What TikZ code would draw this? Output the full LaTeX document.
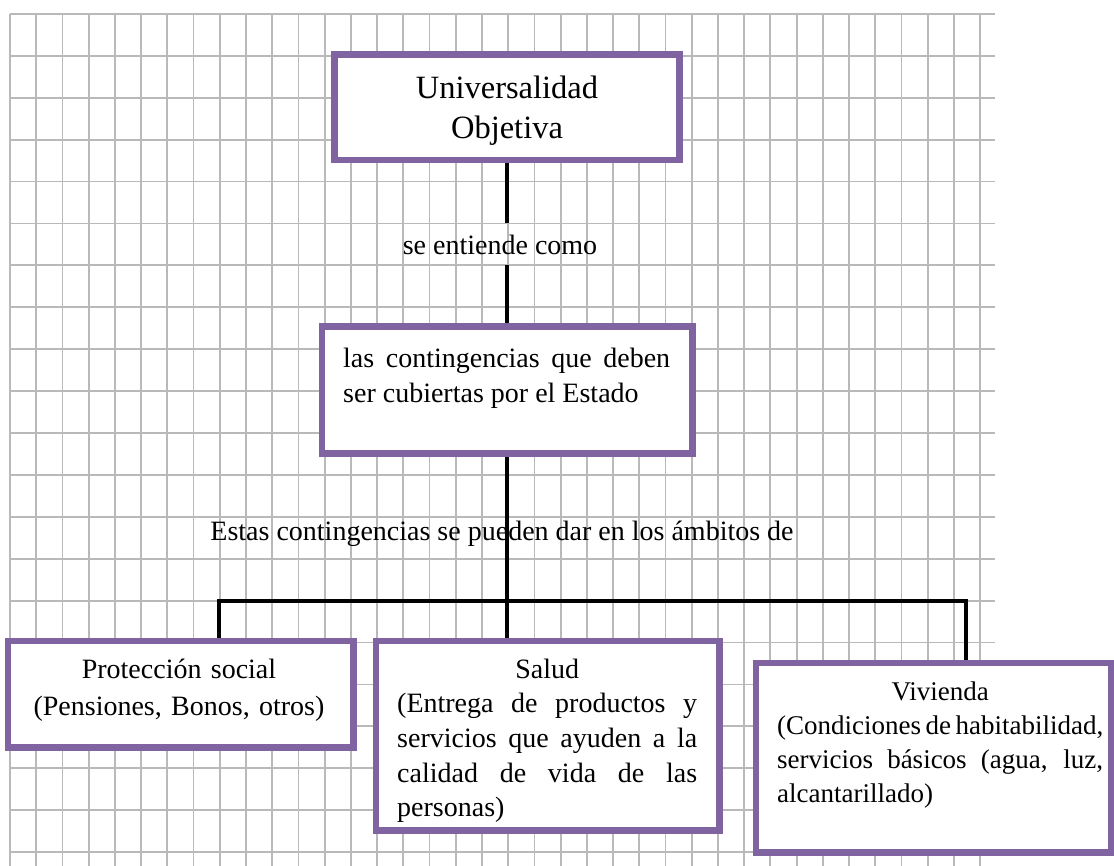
\documentclass[tikz,border=0pt]{standalone}
\usepackage{fontspec}
\setmainfont{Liberation Serif}
\setlength{\parindent}{0pt}
\hyphenpenalty=10000
\exhyphenpenalty=10000
\definecolor{boxpurple}{RGB}{128,100,162}
\definecolor{gridgray}{RGB}{185,185,185}
\begin{document}
\begin{tikzpicture}[x=1pt,y=-1pt,
  box/.style={draw=boxpurple, line width=4.5pt, fill=white, inner sep=0pt, rectangle},
  conn/.style={draw=black, line width=4pt},
  gridline/.style={draw=gridgray, line width=1.8pt},
  txt/.style={inner sep=0pt, font=\fontsize{28}{34.5}\selectfont},
]
\useasboundingbox (0,0) rectangle (1114,866);
% grid paper
\foreach \k in {0,...,37} \draw[gridline] ({10+26.22*\k},14) -- ({10+26.22*\k},866);
\foreach \k in {0,...,20} \draw[gridline] (10,{14+41.9*\k}) -- (995,{14+41.9*\k});

% box shapes
\node[box, minimum width=343pt, minimum height=103pt] (uo) at (507,107.5) {};
\node[box, minimum width=368pt, minimum height=124pt] (cont) at (507,390) {};
\node[box, minimum width=343pt, minimum height=104pt] (prot) at (180.5,694) {};
\node[box, minimum width=341pt, minimum height=187pt] (salud) at (547.5,735.5) {};
\node[box, minimum width=353pt, minimum height=187pt] (viv) at (933.5,757.5) {};

% connectors
\coordinate (l1top) at (507,223);
\coordinate (l1bot) at (507,265);
\coordinate (bar) at (507,601);
\coordinate (bl) at (219,601);
\coordinate (br) at (966,601);
\draw[conn] (uo.south) -- (l1top);
\draw[conn] (l1bot) -- (cont.north);
\draw[conn] (cont.south) -- (bar);
\draw[conn] (bl |- prot.north) -- (bl) -- (br) -- (br |- viv.north);
\draw[conn] (bar) -- (bar |- salud.north);

% redraw borders over connector ends
\draw[boxpurple, line width=4.5pt] (uo.south west) rectangle (uo.north east);
\draw[boxpurple, line width=4.5pt] (cont.south west) rectangle (cont.north east);
\draw[boxpurple, line width=4.5pt] (prot.south west) rectangle (prot.north east);
\draw[boxpurple, line width=4.5pt] (salud.south west) rectangle (salud.north east);
\draw[boxpurple, line width=4.5pt] (viv.south west) rectangle (viv.north east);

% texts
\node[txt, text width=300pt, align=center, font=\fontsize{32.5}{40}\selectfont, anchor=base] (uot) at (507,99) {Universalidad\\Objetiva};
\node[txt, anchor=base] (lab1) at (500,255) {se entiende como};
\node[txt, text width=327pt, align=justify, font=\fontsize{28}{35}\selectfont, anchor=base west] (contt) at (343,368) {las contingencias que deben\linebreak ser cubiertas por el Estado};
\node[txt, anchor=base] (lab2) at (502,540) {Estas contingencias se pueden dar en los ámbitos de};
\node[txt, text width=330pt, align=center, font=\fontsize{28}{37}\selectfont, anchor=base] (prott) at (179,678) {Protección social\\(Pensiones, Bonos, otros)};
\node[txt, text width=300pt, align=justify, font=\fontsize{28}{34.7}\selectfont, anchor=base west] (saludt) at (397,678) {\makebox[\linewidth]{Salud}\linebreak (Entrega de productos y\linebreak servicios que ayuden a la\linebreak calidad de vida de las\linebreak personas)};
\node[txt, text width=326pt, align=justify, font=\fontsize{27}{34.3}\selectfont, anchor=base west] (vivt) at (777,700) {\makebox[\linewidth]{Vivienda}\linebreak \makebox[\linewidth][s]{(Condiciones\hspace{3pt plus 20pt}de\hspace{3pt plus 20pt}habitabilidad,}\linebreak servicios básicos (agua, luz,\linebreak alcantarillado)};
\end{tikzpicture}
\end{document}
